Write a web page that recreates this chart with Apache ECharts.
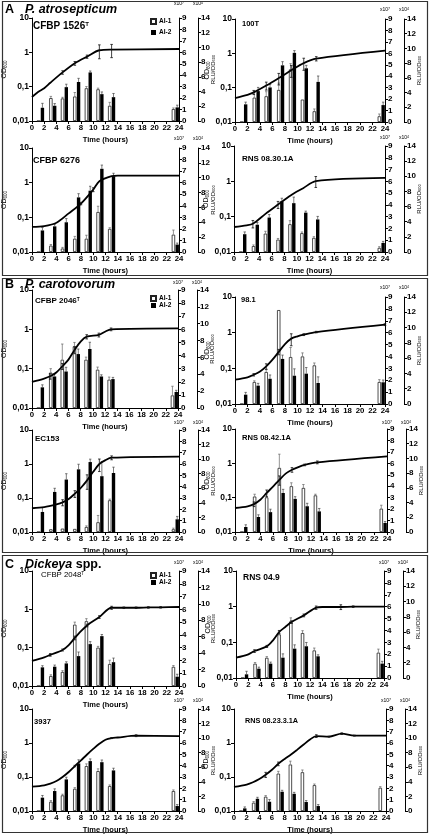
<!DOCTYPE html>
<html><head><meta charset="utf-8">
<script src="https://cdn.jsdelivr.net/npm/echarts@6/dist/echarts.min.js"></script>
<style>html,body{margin:0;padding:0;background:#fff}#c{width:430px;height:835px}</style>
</head><body><div id="c"></div>
<script>
// ---------- DATA ----------
const barTimes = [1.4, 3.4, 5.3, 7.3, 9.2, 11.1, 13.0, 23.4];
const odTickLabels = {'1':'10','0':'1','-1':'0,1','-2':'0,01'};
const legendNames = ['AI-1', 'AI-2'];

// A - P. atrosepticum
const a1OdT = [0,1,2,3,5,7,9,11,13,24];
const a1Od  = [0.05,0.07,0.09,0.13,0.26,0.48,0.75,1.15,1.2,1.25];
const a1OdErrT = [5,7,9,11,13];
const a1OdErr  = [0.03,0.06,0.08,0.5,0.5];
const a1Ai1 = [0,2.0,1.97,2.14,2.86,2.77,1.33,1.04];
const a1Ai1Err = [0,0.15,0.1,0.35,0.15,0.1,0.3,0.1];
const a1Ai2 = [1.8,2.07,4.6,5.3,6.6,3.65,3.24,1.85];
const a1Ai2Err = [0.6,0.3,0.4,0.5,0.2,0.3,0.5,0.3];

const a2OdT = [0,2,3,5,7,9,11,13,24];
const a2Od  = [0.05,0.062,0.073,0.115,0.19,0.32,0.52,0.7,1.2];
const a2OdErrT = [3,5,7,9,11,13];
const a2OdErr  = [0.01,0.03,0.07,0.12,0.2,0.1];
const a2Ai1 = [0,2.13,2.25,2.8,4.6,1.96,0.94,0.5];
const a2Ai1Err = [0,0.5,0.4,0.6,0.5,0,0.2,0.2];
const a2Ai2 = [2.4,4.2,4.7,7.7,9.4,7.3,5.45,2.3];
const a2Ai2Err = [0.3,0.5,0.4,0.5,0.3,0.4,0.8,0.4];

const a3OdT = [0,2,4,6,8,10,11,13,14,24];
const a3Od  = [0.053,0.056,0.07,0.13,0.25,0.63,1.1,1.55,1.6,1.6];
const a3OdErrT = [8,10];
const a3OdErr  = [0.02,0.08];
const a3Ai1 = [0,0.55,0.3,1.15,1.15,3.46,2.0,1.5];
const a3Ai1Err = [0,0.1,0.1,0.2,0.3,0.5,0.1,0.4];
const a3Ai2 = [2.9,3.45,4.0,7.35,8.25,11.2,10.2,1.0];
const a3Ai2Err = [0.4,0.3,0.5,0.5,0.6,0.5,0.4,0.2];

const a4OdT = [0,2,3,5,7,9,11,13,24];
const a4Od  = [0.051,0.057,0.063,0.12,0.22,0.4,0.64,1.02,1.25];
const a4OdErrT = [3,7,13];
const a4OdErr  = [0.015,0.05,0.35];
const a4Ai1 = [0,0.5,1.56,1.05,2.36,1.6,1.2,0.35];
const a4Ai1Err = [0,0.1,0.2,0.1,0.3,0.1,0.1,0.1];
const a4Ai2 = [2.35,3.6,4.55,6.7,6.45,5.2,4.3,1.2];
const a4Ai2Err = [0.3,0.3,0.4,0.4,0.8,0.2,0.4,0.2];

// B - P. carotovorum
const b1OdT = [0,2,3,4,5,6,7,8,9,11,12,13,24];
const b1Od  = [0.046,0.056,0.064,0.08,0.115,0.17,0.3,0.49,0.65,0.72,0.87,1.0,1.06];
const b1OdErrT = [3,5,7,9,11,13];
const b1OdErr  = [0.01,0.02,0.06,0.08,0.08,0.08];
const b1Ai1 = [0,2.7,3.68,4.7,3.68,2.92,2.16,0.96];
const b1Ai1Err = [0,0.3,1.2,0.3,0.2,0.2,0.2,0.7];
const b1Ai2 = [2.45,3.74,4.33,6.4,7.0,3.74,3.43,1.9];
const b1Ai2Err = [0.3,0.3,0.5,0.6,0.8,0.2,0.2,0.2];

const b2OdT = [0,2,3,4,5,6,7,8,9,10,11,13,24];
const b2Od  = [0.048,0.056,0.066,0.082,0.114,0.175,0.29,0.48,0.68,0.79,0.88,1.04,1.68];
const b2OdErrT = [3,5,7,9,11,13,24];
const b2OdErr  = [0.005,0.02,0.05,0.25,0.05,0.05,0.1];
const b2Ai1 = [0,1.85,2.69,7.9,3.95,4.0,3.25,1.85];
const b2Ai1Err = [0,0.1,0.2,0,0.8,0.3,0.2,0.2];
const b2Ai2 = [1.22,2.4,3.3,5.9,3.7,3.97,2.75,2.84];
const b2Ai2Err = [0.3,0.3,0.5,0.5,0.9,0.8,0.8,0.3];

const b3OdT = [0,2,4,5,6,7,8,9,10,11,12,13,24];
const b3Od  = [0.05,0.054,0.065,0.074,0.093,0.134,0.2,0.33,0.59,1.0,1.3,1.53,1.65];
const b3OdErrT = [5,7,9,11,13];
const b3OdErr  = [0.015,0.03,0.15,0.4,0.2];
const b3Ai1 = [0,0.24,0.3,0.27,0.44,0.86,2.8,0.24];
const b3Ai1Err = [0,0,0,0,0.1,0.6,0.1,0.1];
const b3Ai2 = [2.75,5.5,7.2,8.6,9.6,7.66,8.1,1.74];
const b3Ai2Err = [0.6,0.5,0.8,0.7,0.4,2.0,0.8,0.4];

const b4OdT = [0,2,3,4,5,6,7,8,9,10,11,13,24];
const b4Od  = [0.05,0.056,0.065,0.087,0.137,0.21,0.33,0.5,0.65,0.78,0.9,1.07,1.6];
const b4OdErrT = [3,5,7,9,11,13];
const b4OdErr  = [0.01,0.03,0.1,0.1,0.05,0.1];
const b4Ai1 = [0,3.1,3.03,5.6,4.0,3.85,3.2,2.04];
const b4Ai1Err = [0,0.2,0.3,1.2,0.3,0.3,0.1,0.3];
const b4Ai2 = [0.68,2.04,2.7,5.3,4.5,3.5,2.8,1.22];
const b4Ai2Err = [0.3,0.3,0.4,0.5,0.3,0.4,0.4,0.2];

// C - Dickeya spp.
const c1OdT = [0,2,3,5,6,7,8,9,11,13,15,17,19,21,24];
const c1Od  = [0.045,0.056,0.065,0.087,0.117,0.18,0.27,0.38,0.63,1.1,1.1,1.1,1.12,1.13,1.15];
const c1OdErrT = [3,5,7,9,11,13,15,17,19,21];
const c1OdErr  = [0.005,0.005,0.02,0.03,0.05,0.1,0.05,0.05,0.05,0.05];
const c1Ai1 = [0,0.78,1.1,4.8,5.07,3.0,1.72,1.5];
const c1Ai1Err = [0,0.1,0.1,0.2,0.2,0.1,0.3,0.1];
const c1Ai2 = [2.27,2.35,2.75,3.64,5.1,6.07,2.9,1.13];
const c1Ai2Err = [0.2,0.2,0.2,0.5,0.3,0.2,0.5,0.3];

const c2OdT = [0,2,3,5,6,7,8,9,11,13,14,17,19,24];
const c2Od  = [0.037,0.046,0.057,0.077,0.114,0.195,0.27,0.37,0.57,0.94,0.98,0.98,1.0,1.0];
const c2OdErrT = [3,5,7,9,11,13,17,19];
const c2OdErr  = [0.005,0.005,0.02,0.03,0.05,0.1,0.15,0.05];
const c2Ai1 = [0,1.2,1.7,3.67,4.76,3.78,2.32,2.13];
const c2Ai1Err = [0,0.1,0.1,0.2,0.3,0.2,0.2,0.3];
const c2Ai2 = [0.48,1.22,1.88,2.66,3.84,4.15,2.84,1.88];
const c2Ai2Err = [0.4,0.2,0.2,0.5,0.5,0.5,0.2,0.3];

const c3OdT = [0,2,3,4,5,6,7,8,9,10,11,12,13,14,17,24];
const c3Od  = [0.052,0.057,0.064,0.076,0.1,0.14,0.21,0.31,0.46,0.67,0.95,1.25,1.4,1.45,1.64,1.6];
const c3OdErrT = [7,13,17];
const c3OdErr  = [0.01,0.05,0.1];
const c3Ai1 = [0,0.82,1.38,1.96,3.96,3.52,2.2,1.76];
const c3Ai1Err = [0,0.1,0.1,0.1,0.2,0.2,0.1,0.1];
const c3Ai2 = [1.83,2.74,4.34,6.53,6.85,6.7,5.57,0.68];
const c3Ai2Err = [0.3,0.3,0.3,0.5,0.3,0.3,0.3,0.2];

const c4OdT = [0,2,3,4,5,6,7,8,9,10,11,12,13,15,17,19,24];
const c4Od  = [0.051,0.06,0.07,0.087,0.117,0.164,0.245,0.34,0.46,0.64,0.9,1.27,1.6,1.53,1.88,1.65,1.65];
const c4OdErrT = [5,7,13,15,17,19];
const c4OdErr  = [0.02,0.03,0.15,0.05,0.1,0.05];
const c4Ai1 = [0,0.73,1.26,3.3,4.1,3.42,2.28,2.05];
const c4Ai1Err = [0,0.1,0.1,0.2,0.3,0.2,0.1,0.1];
const c4Ai2 = [0.36,1.68,1.27,2.64,2.36,1.23,0.68,0];
const c4Ai2Err = [0.2,0.2,0.3,0.2,0.2,0.2,0.2,0];

const panels = [
  {key:'A1', label:'CFBP 1526', sup:'T', odT:a1OdT, od:a1Od, eT:a1OdErrT, e:a1OdErr, ai1:a1Ai1, e1:a1Ai1Err, ai2:a1Ai2, e2:a1Ai2Err},
  {key:'A2', label:'100T', sup:'', odT:a2OdT, od:a2Od, eT:a2OdErrT, e:a2OdErr, ai1:a2Ai1, e1:a2Ai1Err, ai2:a2Ai2, e2:a2Ai2Err},
  {key:'A3', label:'CFBP 6276', sup:'', odT:a3OdT, od:a3Od, eT:a3OdErrT, e:a3OdErr, ai1:a3Ai1, e1:a3Ai1Err, ai2:a3Ai2, e2:a3Ai2Err},
  {key:'A4', label:'RNS 08.30.1A', sup:'', odT:a4OdT, od:a4Od, eT:a4OdErrT, e:a4OdErr, ai1:a4Ai1, e1:a4Ai1Err, ai2:a4Ai2, e2:a4Ai2Err},
  {key:'B1', label:'CFBP 2046', sup:'T', odT:b1OdT, od:b1Od, eT:b1OdErrT, e:b1OdErr, ai1:b1Ai1, e1:b1Ai1Err, ai2:b1Ai2, e2:b1Ai2Err},
  {key:'B2', label:'98.1', sup:'', odT:b2OdT, od:b2Od, eT:b2OdErrT, e:b2OdErr, ai1:b2Ai1, e1:b2Ai1Err, ai2:b2Ai2, e2:b2Ai2Err},
  {key:'B3', label:'EC153', sup:'', odT:b3OdT, od:b3Od, eT:b3OdErrT, e:b3OdErr, ai1:b3Ai1, e1:b3Ai1Err, ai2:b3Ai2, e2:b3Ai2Err},
  {key:'B4', label:'RNS 08.42.1A', sup:'', odT:b4OdT, od:b4Od, eT:b4OdErrT, e:b4OdErr, ai1:b4Ai1, e1:b4Ai1Err, ai2:b4Ai2, e2:b4Ai2Err},
  {key:'C1', label:'CFBP 2048', sup:'T', odT:c1OdT, od:c1Od, eT:c1OdErrT, e:c1OdErr, ai1:c1Ai1, e1:c1Ai1Err, ai2:c1Ai2, e2:c1Ai2Err},
  {key:'C2', label:'RNS 04.9', sup:'', odT:c2OdT, od:c2Od, eT:c2OdErrT, e:c2OdErr, ai1:c2Ai1, e1:c2Ai1Err, ai2:c2Ai2, e2:c2Ai2Err},
  {key:'C3', label:'3937', sup:'', odT:c3OdT, od:c3Od, eT:c3OdErrT, e:c3OdErr, ai1:c3Ai1, e1:c3Ai1Err, ai2:c3Ai2, e2:c3Ai2Err},
  {key:'C4', label:'RNS 08.23.3.1A', sup:'', odT:c4OdT, od:c4Od, eT:c4OdErrT, e:c4OdErr, ai1:c4Ai1, e1:c4Ai1Err, ai2:c4Ai2, e2:c4Ai2Err}
];

// ---------- LAYOUT ----------
const layout = {
  A1:{l:25,t:18,r:179,b:121, tx:33,ty:26,tf:10,tw:'bold', exp:12},
  A2:{l:235,t:19,r:385,b:122, tx:242,ty:24,tf:7.5,tw:'bold', exp:7},
  A3:{l:23,t:148,r:179,b:252, tx:33,ty:161,tf:9,tw:'bold', exp:7},
  A4:{l:234,t:146,r:385,b:252, tx:242,ty:159,tf:8,tw:'bold', exp:6},
  B1:{l:29,t:290,r:178,b:408, tx:35,ty:301,tf:8,tw:'bold', exp:5},
  B2:{l:235,t:297,r:385,b:404, tx:241,ty:300,tf:7.5,tw:'bold', exp:7},
  B3:{l:29,t:430,r:179,b:532, tx:35,ty:439,tf:8,tw:'bold', exp:5},
  B4:{l:235,t:429,r:387,b:532, tx:242,ty:438,tf:7.6,tw:'bold', exp:4},
  C1:{l:28,t:571,r:179,b:686, tx:41,ty:575,tf:7.8,tw:'normal', exp:6},
  C2:{l:236,t:571,r:384,b:678, tx:243,ty:578,tf:8.5,tw:'bold', exp:6},
  C3:{l:29,t:709,r:179,b:812, tx:34,ty:722,tf:7.6,tw:'bold', exp:6},
  C4:{l:234,t:709,r:386,b:812, tx:245,ty:721,tf:7.3,tw:'bold', exp:6}
};
const sections = [
  {letter:'A', name:[['P. atrosepticum','italic']], y:1, h:274, ty:10},
  {letter:'B', name:[['P. carotovorum','italic']], y:278, h:274, ty:285},
  {letter:'C', name:[['Dickeya','italic'],[' spp.','normal']], y:555, h:277, ty:565}
];
const legendPos = [
  {left:145, top:13, gap:4},
  {left:145, top:290, gap:0},
  {left:145, top:567, gap:0}
];
const BAR_W = 3.4, BAR_GAP = 0.12;

// ---------- BUILD ----------
const FONT = '"Liberation Sans", Arial, Helvetica, sans-serif';
const black = '#000';
const axisCommon = {
  axisLine:{show:true, onZero:false, lineStyle:{color:black, width:1}},
  axisTick:{show:true, length:3, lineStyle:{color:black, width:1}},
  splitLine:{show:false},
  axisLabel:{color:black, fontSize:8, fontWeight:'bold', fontFamily:FONT, margin:3}
};
const grid=[], xAxis=[], yAxis=[], series=[], graphic=[];

function errRender(dx, color){
  return function(params, api){
    const t = api.value(0), v = api.value(1), e = api.value(2);
    if (!e) return null;
    const lo = api.coord([t, v]), hi = api.coord([t, v + e]);
    const x = lo[0] + dx;
    const st = {stroke:color, lineWidth:0.7};
    return {type:'group', children:[
      {type:'line', shape:{x1:x, y1:lo[1], x2:x, y2:hi[1]}, style:st},
      {type:'line', shape:{x1:x-1.2, y1:hi[1], x2:x+1.2, y2:hi[1]}, style:st}
    ]};
  };
}
function odErrRender(params, api){
  const t = api.value(0), v = api.value(1), e = api.value(2);
  const lo = api.coord([t, Math.max(v - e, 0.011)]), hi = api.coord([t, v + e]);
  const x = lo[0];
  const st = {stroke:'#111', lineWidth:0.8};
  return {type:'group', children:[
    {type:'line', shape:{x1:x, y1:lo[1], x2:x, y2:hi[1]}, style:st},
    {type:'line', shape:{x1:x-1.3, y1:hi[1], x2:x+1.3, y2:hi[1]}, style:st},
    {type:'line', shape:{x1:x-1.3, y1:lo[1], x2:x+1.3, y2:lo[1]}, style:st}
  ]};
}

panels.forEach((p,i)=>{
  const L = layout[p.key];
  const isLeft = p.key.endsWith('1') || p.key.endsWith('3');
  grid.push({left:L.l, top:L.t, width:L.r-L.l, height:L.b-L.t});
  xAxis.push(Object.assign({}, axisCommon, {
    type:'value', gridIndex:i, min:0, max:24, interval:2,
    name:'Time (hours)', nameLocation:'middle', nameGap:15,
    nameTextStyle:{color:black, fontSize:7.5, fontWeight:'bold', fontFamily:FONT},
    axisLabel:Object.assign({}, axisCommon.axisLabel, {fontSize:7.8})
  }));
  yAxis.push(Object.assign({}, axisCommon, {
    type:'log', logBase:10, gridIndex:i, min:0.01, max:10, position:'left',
    minorTick:{show:false},
    axisLabel:Object.assign({}, axisCommon.axisLabel, {fontSize:8.5,
      formatter:v=>odTickLabels[String(Math.round(Math.log10(v)))]}),
    name:'OD{s|600}', nameLocation:'middle', nameRotate:90, nameGap:isLeft?10:8,
    nameTextStyle:{color:black, fontSize:7, fontFamily:FONT, rich:{s:{fontSize:4.5, verticalAlign:'bottom', fontFamily:FONT, padding:[3,0,0,0]}}}
  }));
  yAxis.push(Object.assign({}, axisCommon, {
    type:'value', gridIndex:i, position:'right', min:0, max:9, interval:1,
    name:'x10{p|7}', nameLocation:'end', nameGap:L.exp,
    nameTextStyle:{color:black, fontSize:5, fontFamily:FONT, rich:{p:{fontSize:3.5, verticalAlign:'top', fontFamily:FONT}}}
  }));
  yAxis.push(Object.assign({}, axisCommon, {
    type:'value', gridIndex:i, position:'right', offset:19, min:0, max:14, interval:2,
    name:'x10{p|4}', nameLocation:'end', nameGap:L.exp,
    nameTextStyle:{color:black, fontSize:5, fontFamily:FONT, rich:{p:{fontSize:3.5, verticalAlign:'top', fontFamily:FONT}}}
  }));
  series.push({
    type:'bar', name:legendNames[0], xAxisIndex:i, yAxisIndex:3*i+1,
    data:barTimes.map((t,k)=>[t,p.ai1[k]]), barWidth:BAR_W, barGap:(BAR_GAP*100)+'%',
    itemStyle:{color:'#fff', borderColor:'#222', borderWidth:0.8}, z:2
  });
  series.push({
    type:'bar', name:legendNames[1], xAxisIndex:i, yAxisIndex:3*i+2,
    data:barTimes.map((t,k)=>[t,p.ai2[k]]), barWidth:BAR_W, barGap:(BAR_GAP*100)+'%',
    itemStyle:{color:'#000'}, z:2
  });
  const half = (BAR_W*(1+BAR_GAP))/2;
  series.push({
    type:'custom', xAxisIndex:i, yAxisIndex:3*i+1, silent:true, z:3,
    data:barTimes.map((t,k)=>[t,p.ai1[k],p.e1[k]]), renderItem:errRender(-half,'#666')
  });
  series.push({
    type:'custom', xAxisIndex:i, yAxisIndex:3*i+2, silent:true, z:3,
    data:barTimes.map((t,k)=>[t,p.ai2[k],p.e2[k]]), renderItem:errRender(half,'#444')
  });
  series.push({
    type:'line', name:'OD', xAxisIndex:i, yAxisIndex:3*i,
    data:p.odT.map((t,k)=>[t,p.od[k]]), smooth:0.3, showSymbol:false, symbol:'none',
    lineStyle:{color:black, width:1.8}, z:5, silent:true
  });
  series.push({
    type:'custom', xAxisIndex:i, yAxisIndex:3*i, silent:true, z:6,
    data:p.eT.map((t,k)=>[t, p.od[p.odT.indexOf(t)], p.e[k]]), renderItem:odErrRender
  });
  // panel title
  graphic.push({type:'text', x:L.tx, y:L.ty, z:50, style:{
    text: p.label + (p.sup ? '{p|'+p.sup+'}' : ''),
    fill:black, fontSize:L.tf, fontWeight:L.tw, fontFamily:FONT, textVerticalAlign:'middle',
    rich:{p:{fontSize:L.tf*0.6, fontWeight:L.tw, fontFamily:FONT, verticalAlign:'top', fill:black}}
  }});
  // RLU/OD600 label right of second right axis
  graphic.push({type:'text', x:L.r+19+15, y:(L.t+L.b)/2, rotation:Math.PI/2, z:50, style:{
    text:'RLU/OD{s|600}', fill:black, fontSize:6, fontFamily:FONT, textAlign:'center', textVerticalAlign:'middle',
    rich:{s:{fontSize:4, fontFamily:FONT, verticalAlign:'bottom', fill:black}}
  }});
});

sections.forEach(s=>{
  graphic.push({type:'rect', shape:{x:2.5, y:s.y+0.5, width:425, height:s.h}, z:1,
    style:{fill:null, stroke:'#333', lineWidth:1.2}});
  graphic.push({type:'text', x:5, y:s.ty, z:50, style:{text:s.letter, fill:black, fontSize:12.5, fontWeight:'bold', fontFamily:FONT, textVerticalAlign:'middle'}});
  graphic.push({type:'text', x:25, y:s.ty, z:50, style:{
    text:s.name.map((n,k)=>'{'+'n'+k+'|'+n[0]+'}').join(''),
    fontSize:12.5, fontFamily:FONT, textVerticalAlign:'middle', fill:black,
    rich:Object.fromEntries(s.name.map((n,k)=>['n'+k,{fontSize:12.5, fontWeight:'bold', fontStyle:n[1], fontFamily:FONT, fill:black}]))
  }});
});

const legend = legendPos.map(lp=>({
  data:legendNames, left:lp.left, top:lp.top, orient:'vertical', itemWidth:5, itemHeight:5,
  itemGap:lp.gap, selectedMode:false, icon:'rect',
  textStyle:{fontSize:6.5, fontWeight:'bold', fontFamily:FONT, color:black, padding:[0,0,0,-2]}
}));

const chart = echarts.init(document.getElementById('c'), null, {renderer:'canvas'});
chart.setOption({
  animation:false, backgroundColor:'#fff',
  grid, xAxis, yAxis, series, legend, graphic
});
</script></body></html>
